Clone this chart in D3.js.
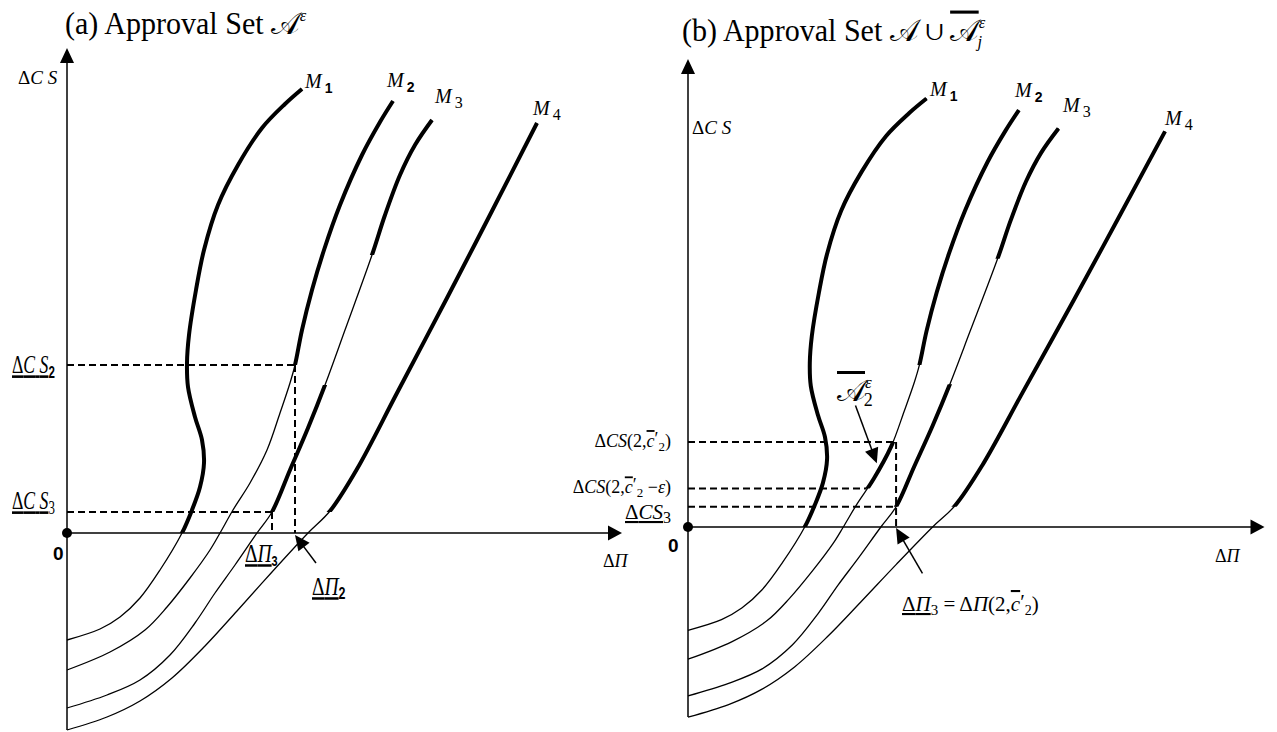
<!DOCTYPE html>
<html><head><meta charset="utf-8">
<script src="https://cdn.jsdelivr.net/npm/d3@7"></script>
<style>body{margin:0;background:#fff}svg{display:block}</style>
</head><body>
<svg id="c" width="1277" height="732"></svg>
<script>
// ---------- data (arbitrary units, origin = (0,0)) ----------
const curveNames = ["M1", "M2", "M3", "M4"];
const m1 = [[0,-107],[33,-96],[53,-84],[73,-65],[93,-37],[115,0],[125,23],[133,46],[137,70],[135,93],[128,116],[121,146],[120,170],[122,198],[129,243],[137,283],[151,328],[171,368],[195,405],[218,429],[235,444]];
const m2 = [[0,-137],[43,-119],[78,-97],[100,-74],[123,-45],[143,-17],[153,0],[166,23],[183,50],[200,83],[213,120],[223,150],[228,168],[235,203],[245,243],[257,283],[273,328],[295,378],[313,411],[326,432]];
const m3 = [[0,-175],[40,-162],[73,-147],[103,-122],[128,-90],[148,-60],[168,-32],[190,0],[205,21],[223,63],[241,105],[258,148],[278,203],[305,278],[318,318],[333,358],[348,388],[365,413]];
const m4 = [[0,-197],[40,-184],[73,-168],[105,-145],[138,-113],[170,-78],[205,-39],[241,0],[263,22],[290,64],[330,140],[380,235],[425,322],[470,410]];
const curves = [m1, m2, m3, m4];
// thick (approved) segments as ranges of ΔCS, per panel
const thickA = [[[0,500]], [[168,500]], [[21,148],[278,500]], [[21,500]]];
const thickB = [[[0,500]], [[40,88],[168,500]], [[21,148],[278,500]], [[21,500]]];
// reference levels
const levelsA = {dCS2: 168, dCS3: 21, dPi2: 228, dPi3: 205};
const levelsB = {dCSc: 88, dCSce: 40, dCS3: 21, dPi3: 205, dPiE: 176};
const axisMin = -197, axisMaxY = 485;

const SERIF = "'Liberation Serif','Times New Roman',serif";
const SANS = "'Liberation Sans',Arial,sans-serif";
const svg = d3.select("#c");
const defs = svg.append("defs");

const panels = [
  {id: "a", x: d3.scaleLinear().domain([0, 555]).range([67, 622]),
            y: d3.scaleLinear().domain([axisMin, axisMaxY]).range([730, 48]), thick: thickA},
  {id: "b", x: d3.scaleLinear().domain([0, 568]).range([688, 688 + 568 * 1.015]),
            y: d3.scaleLinear().domain([axisMin, axisMaxY]).range([527 + 197 * 0.965, 527 - 485 * 0.965]), thick: thickB}
];

function head(g, x1, y1, x2, y2, len, hw) {
  const dx = x2 - x1, dy = y2 - y1, L = Math.hypot(dx, dy), ux = dx / L, uy = dy / L;
  const bx = x2 - ux * len, by = y2 - uy * len;
  g.append("path").attr("d", `M${x2},${y2}L${bx - uy * hw},${by + ux * hw}L${bx + uy * hw},${by - ux * hw}Z`).attr("fill", "#000");
}
function arrow(g, x1, y1, x2, y2, len, hw) {
  const dx = x2 - x1, dy = y2 - y1, L = Math.hypot(dx, dy);
  g.append("line").attr("x1", x1).attr("y1", y1).attr("x2", x2 - dx / L * len * 0.8).attr("y2", y2 - dy / L * len * 0.8)
    .attr("stroke", "#000").attr("stroke-width", 1.5);
  head(g, x1, y1, x2, y2, len, hw);
}
function label(g, x, y, parts, o = {}) {
  const t = g.append("text").attr("transform", `translate(${x},${y}) scale(${o.sx || 1},1)`)
    .attr("font-family", SERIF).attr("font-size", o.size || 18).attr("text-anchor", o.anchor || "start").attr("fill", "#000");
  let cur = 0;
  parts.forEach(p => {
    const s = t.append("tspan").text(p.t);
    const off = p.off || 0;
    if (off !== cur) { s.attr("dy", off - cur); cur = off; }
    if (p.dx) s.attr("dx", p.dx);
    if (p.i) s.attr("font-style", "italic");
    if (p.b) s.attr("font-weight", "bold");
    if (p.sans) s.attr("font-family", SANS);
    if (p.size) s.attr("font-size", p.size);
    if (p.u) s.attr("text-decoration", "underline");
    if (p.o) s.attr("text-decoration", "overline");
  });
  return t;
}
function dashed(g, x1, y1, x2, y2) {
  g.append("line").attr("x1", x1).attr("y1", y1).attr("x2", x2).attr("y2", y2)
    .attr("stroke", "#000").attr("stroke-width", 2).attr("stroke-dasharray", "7,4");
}

panels.forEach(P => {
  const g = svg.append("g");
  const X = P.x, Y = P.y;
  const line = d3.line().x(d => X(d[0])).y(d => Y(d[1])).curve(d3.curveCatmullRom.alpha(0.5));
  const x0 = X(0), y0 = Y(0);
  g.append("line").attr("x1", x0).attr("y1", Y(axisMin)).attr("x2", x0).attr("y2", Y(axisMaxY) + 10).attr("stroke", "#000").attr("stroke-width", 1.5);
  head(g, x0, Y(0), x0, Y(axisMaxY), 15, 7);
  const xe = X.range()[1];
  g.append("line").attr("x1", x0).attr("y1", y0).attr("x2", xe - 10).attr("y2", y0).attr("stroke", "#000").attr("stroke-width", 1.5);
  head(g, x0, y0, xe, y0, 14, 7.5);
  curves.forEach((c, i) => {
    g.append("path").attr("d", line(c)).attr("fill", "none").attr("stroke", "#000").attr("stroke-width", 1.3);
    P.thick[i].forEach((r, k) => {
      const id = `clip-${P.id}-${i}-${k}`;
      defs.append("clipPath").attr("id", id).append("rect")
        .attr("x", 0).attr("width", 1277).attr("y", Y(r[1])).attr("height", Y(r[0]) - Y(r[1]));
      g.append("path").attr("d", line(c)).attr("fill", "none").attr("stroke", "#000").attr("stroke-width", 4)
        .attr("clip-path", `url(#${id})`);
    });
  });
  g.append("circle").attr("cx", x0).attr("cy", y0).attr("r", 5).attr("fill", "#000");
  P.g = g;
});

// ---------- panel (a) annotations ----------
{
  const P = panels[0], g = P.g, X = P.x, Y = P.y, L = levelsA;
  dashed(g, X(0), Y(L.dCS2), X(L.dPi2), Y(L.dCS2));
  dashed(g, X(L.dPi2), Y(L.dCS2), X(L.dPi2), Y(0));
  dashed(g, X(0), Y(L.dCS3), X(L.dPi3), Y(L.dCS3));
  dashed(g, X(L.dPi3), Y(L.dCS3), X(L.dPi3), Y(0));
  arrow(g, X(L.dPi2 + 21), Y(-30), X(L.dPi2), Y(-2), 15, 7);
  label(g, 65, 34, [{t: "(a) Approval Set "}, {t: "𝒜"}, {t: "ε", size: 17, off: -13, i: true}], {size: 31, sx: 0.97});
  label(g, 18, 84, [{t: "Δ"}, {t: "C", i: true}, {t: " "}, {t: "S", i: true}], {size: 19});
  label(g, 12, Y(L.dCS2) + 8, [{t: "Δ", u: true}, {t: "C", i: true, u: true}, {t: " ", u: true}, {t: "S", i: true, u: true}, {t: "2", b: true, sans: true, size: 17, off: 5}], {size: 26, sx: 0.68});
  label(g, 12, Y(L.dCS3) - 3, [{t: "Δ", u: true}, {t: "C", i: true, u: true}, {t: " ", u: true}, {t: "S", i: true, u: true}, {t: "3", size: 19, off: 5}], {size: 26, sx: 0.68});
  label(g, 53, 560, [{t: "0"}], {size: 19}).attr("font-family", SANS).attr("font-weight", "bold");
  label(g, 245, 562, [{t: "Δ", u: true}, {t: "Π", i: true, u: true}, {t: "3", b: true, sans: true, size: 14, off: 4}], {size: 25, sx: 0.78});
  label(g, 312, 595, [{t: "Δ", u: true}, {t: "Π", i: true, u: true}, {t: "2", b: true, sans: true, size: 16, off: 4}], {size: 25, sx: 0.78});
  label(g, 603, 567, [{t: "Δ"}, {t: "Π", i: true}], {size: 18});
  const ml = [[305, 88, true], [387, 87, true], [435, 103, false], [533, 115, false]];
  ml.forEach((m, i) => label(g, m[0], m[1], [{t: "M", i: true}, {t: curveNames[i].slice(1), dx: 3, off: 5, size: m[2] ? 14 : 16, b: m[2], sans: m[2]}], {size: 20}));
}
// ---------- panel (b) annotations ----------
{
  const P = panels[1], g = P.g, X = P.x, Y = P.y, L = levelsB;
  dashed(g, X(0), Y(L.dCSc), X(L.dPi3), Y(L.dCSc));
  dashed(g, X(0), Y(L.dCSce), X(L.dPiE), Y(L.dCSce));
  dashed(g, X(0), Y(L.dCS3), X(L.dPi3), Y(L.dCS3));
  dashed(g, X(L.dPi3), Y(L.dCSc), X(L.dPi3), Y(0));
  arrow(g, X(L.dPi3 + 26), Y(-48), X(L.dPi3), Y(-1), 15, 7);
  arrow(g, X(165), Y(126), X(186), Y(66), 15, 7);
  label(g, 682, 41, [{t: "(b) Approval Set  "}, {t: "𝒜 ∪ "}, {t: "𝒜", o: true}, {t: "ε", size: 17, off: -13, i: true}, {t: "j", size: 17, off: 6, dx: -8, i: true}], {size: 31, sx: 0.97});
  label(g, 692, 134, [{t: "Δ"}, {t: "C", i: true}, {t: " "}, {t: "S", i: true}], {size: 19});
  label(g, 671, Y(L.dCSc) + 5, [{t: "Δ"}, {t: "CS", i: true}, {t: "(2,"}, {t: "c", i: true, o: true}, {t: "′", off: -2}, {t: "2", size: 13, off: 4}, {t: ")", off: 0}], {size: 18, anchor: "end"});
  label(g, 671, Y(L.dCSce) + 5, [{t: "Δ"}, {t: "CS", i: true}, {t: "(2,"}, {t: "c", i: true, o: true}, {t: "′", off: -2}, {t: "2", size: 13, off: 4}, {t: " −", off: 0}, {t: "ε", i: true}, {t: ")"}], {size: 18, anchor: "end"});
  label(g, 625, 519, [{t: "Δ", u: true}, {t: "CS", i: true, u: true}, {t: "3", size: 16, off: 4}], {size: 21});
  label(g, 668, 552, [{t: "0"}], {size: 19}).attr("font-family", SANS).attr("font-weight", "bold");
  label(g, 837, 401, [{t: "𝒜", o: true}, {t: "ε", size: 17, off: -13, i: true}, {t: "2", size: 18, off: 5, dx: -8}], {size: 30});
  label(g, 902, 611, [{t: "Δ", u: true}, {t: "Π", i: true, u: true}, {t: "3", size: 15, off: 4}, {t: " = Δ", off: 0}, {t: "Π", i: true}, {t: "(2,"}, {t: "c", i: true, o: true}, {t: "′", off: -2}, {t: "2", size: 14, off: 4}, {t: ")", off: 0}], {size: 21});
  label(g, 1215, 562, [{t: "Δ"}, {t: "Π", i: true}], {size: 18});
  const ml = [[930, 96, true], [1015, 97, true], [1063, 112, false], [1165, 125, false]];
  ml.forEach((m, i) => label(g, m[0], m[1], [{t: "M", i: true}, {t: curveNames[i].slice(1), dx: 3, off: 5, size: m[2] ? 14 : 16, b: m[2], sans: m[2]}], {size: 20}));
}
</script>
</body></html>
